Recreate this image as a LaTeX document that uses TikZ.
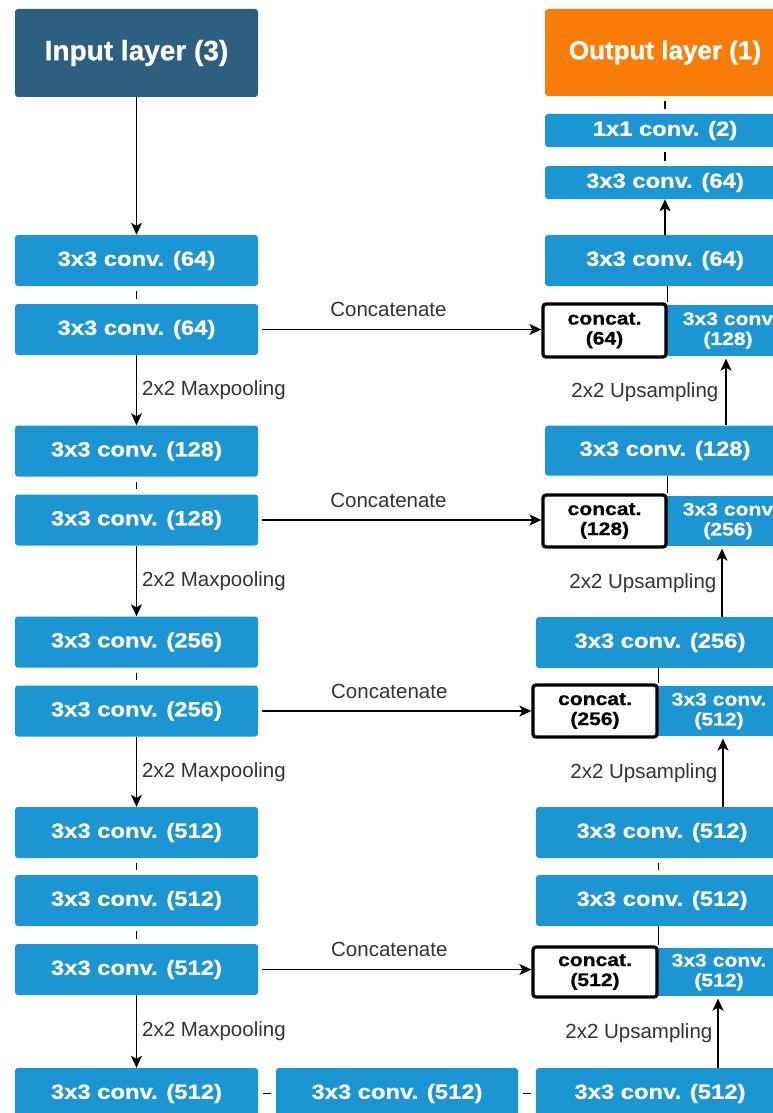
\documentclass[tikz,border=0pt]{standalone}
\usepackage{fontspec}
\setmainfont{Liberation Sans}
\newfontfamily\boxfont[FakeStretch=1.16,FakeBold=0.8]{Liberation Sans}
\newfontfamily\titlefont[FakeBold=0.8]{Liberation Sans}
\usetikzlibrary{arrows.meta}
\definecolor{ublue}{HTML}{1B96D3}
\definecolor{udark}{HTML}{2E5E80}
\definecolor{uorange}{HTML}{FA7D0A}
\definecolor{ulabel}{HTML}{333333}
\tikzset{
  conv/.style={fill=ublue, rounded corners=3pt, text=white, inner sep=0pt,
    font=\boxfont\bfseries\fontsize{20.5}{22}\selectfont},
  title/.style={rounded corners=3pt, text=white, inner sep=0pt,
    font=\titlefont\bfseries\fontsize{28}{30}\selectfont},
  lw/.style={minimum width=243pt, minimum height=51pt},
  rw/.style={minimum width=240pt},
  rlw/.style={minimum width=248pt, minimum height=51pt},
  concatbox/.style={draw=black, line width=3.3pt, fill=white, rounded corners=3pt,
    text=black, inner sep=0pt, align=center, minimum width=123pt,
    font=\boxfont\bfseries\fontsize{18.2}{20}\selectfont},
  halfbox/.style={fill=ublue, text=white, inner sep=0pt, align=center,
    minimum width=128pt, font=\boxfont\bfseries\fontsize{18.2}{20}\selectfont},
  arr/.style={draw=black, line width=1.3pt, -{Stealth[length=12pt,width=11pt,inset=3pt]}},
  plain/.style={draw=black, line width=1.3pt},
  tick/.style={draw=black, line width=1.3pt, shorten >=5pt, shorten <=5pt},
  lbl/.style={text=ulabel, inner sep=0pt, font=\fontsize{20.5}{22}\selectfont},
}
\begin{document}
\begin{tikzpicture}[x=1pt,y=-1pt]
\useasboundingbox (0,0) rectangle (773,1113);
\clip (0,0) rectangle (773,1113);
\fill[white] (0,0) rectangle (773,1113);

% left column
\node[title, fill=udark, minimum width=243pt, minimum height=88pt] (in) at (136.5,53) {Input layer (3)};
\node[conv, lw] (L1) at (136.5,260.5) {3x3 conv. (64)};
\node[conv, lw] (L2) at (136.5,329.5) {3x3 conv. (64)};
\node[conv, lw] (L3) at (136.5,451) {3x3 conv. (128)};
\node[conv, lw] (L4) at (136.5,520) {3x3 conv. (128)};
\node[conv, lw] (L5) at (136.5,642) {3x3 conv. (256)};
\node[conv, lw] (L6) at (136.5,711) {3x3 conv. (256)};
\node[conv, lw] (L7) at (136.5,832.5) {3x3 conv. (512)};
\node[conv, lw] (L8) at (136.5,900.5) {3x3 conv. (512)};
\node[conv, lw] (L9) at (136.5,969.5) {3x3 conv. (512)};
\node[conv, lw] (B1) at (136.5,1093.5) {3x3 conv. (512)};
\node[conv, minimum width=242pt, minimum height=51pt] (B2) at (397,1093.5) {3x3 conv. (512)};

% right column
\node[title, fill=uorange, rw, minimum height=87pt, font=\titlefont\bfseries\fontsize{26}{28}\selectfont] (out) at (665,52.5) {Output layer (1)};
\node[conv, rw, minimum height=33pt] (c11) at (665,130.5) {1x1 conv. (2)};
\node[conv, rw, minimum height=33pt] (T64) at (665,182.5) {3x3 conv. (64)};
\node[conv, rw, minimum height=51pt] (R1) at (665,260.5) {3x3 conv. (64)};
\node[halfbox, minimum height=51pt] (H1) at (728,330.5) {3x3 conv\\(128)};
\node[concatbox, minimum height=53pt] (C1) at (604.5,330.5) {concat.\\(64)};
\node[conv, rw, minimum height=50pt] (R2) at (665,450.5) {3x3 conv. (128)};
\node[halfbox, minimum height=50pt] (H2) at (728,521) {3x3 conv\\(256)};
\node[concatbox, minimum height=52pt] (C2) at (604.5,521) {concat.\\(128)};
\node[conv, rlw] (R3) at (660,642.5) {3x3 conv. (256)};
\node[halfbox, minimum height=50pt] (H3) at (719,711) {3x3 conv.\\(512)};
\node[concatbox, minimum height=52pt, minimum width=124pt] (C3) at (595,711) {concat.\\(256)};
\node[conv, minimum width=252pt, minimum height=51pt] (R4) at (662,832.5) {3x3 conv. (512)};
\node[conv, minimum width=252pt, minimum height=51pt] (R5) at (662,900.5) {3x3 conv. (512)};
\node[halfbox, minimum height=48pt] (H4) at (719,972) {3x3 conv.\\(512)};
\node[concatbox, minimum height=50pt, minimum width=124pt] (C4) at (595,972) {concat.\\(512)};
\node[conv, rlw] (RB) at (660,1093.5) {3x3 conv. (512)};

% left connectors
\draw[arr] (in) -- (L1);
\draw[tick] (L1) -- (L2);
\draw[arr] (L2) -- node[lbl, midway, right=5pt] {2x2 Maxpooling} (L3);
\draw[tick] (L3) -- (L4);
\draw[arr] (L4) -- node[lbl, midway, right=5pt] {2x2 Maxpooling} (L5);
\draw[tick] (L5) -- (L6);
\draw[arr] (L6) -- node[lbl, midway, right=5pt] {2x2 Maxpooling} (L7);
\draw[tick] (L7) -- (L8);
\draw[tick] (L8) -- (L9);
\draw[arr] (L9) -- node[lbl, midway, right=5pt] {2x2 Maxpooling} (B1);
\draw[tick] (B1) -- (B2);
\draw[tick] (B2) -- (RB);

% concatenations
\draw[arr, shorten <=4pt] (L2.east) -- node[lbl, pos=0.46, above=12pt] {Concatenate} (L2.east -| C1.west);
\draw[arr, shorten <=4pt] (L4.east) -- node[lbl, pos=0.46, above=12pt] {Concatenate} (L4.east -| C2.west);
\draw[arr, shorten <=4pt] (L6.east) -- node[lbl, pos=0.48, above=12pt] {Concatenate} (L6.east -| C3.west);
\draw[arr, shorten <=4pt] (L9.east) -- node[lbl, pos=0.48, above=12pt] {Concatenate} (L9.east -| C4.west);

% right connectors
\draw[tick] (out) -- (c11);
\draw[tick] (c11) -- (T64);
\draw[arr] (R1) -- (T64);
\draw[plain] (R1.south -| C1.east) -- (C1.north east);
\draw[arr] ([xshift=61pt]R2.north) -- node[lbl, midway, left=7pt] {2x2 Upsampling} ([xshift=61pt]R2.north |- C1.south);
\draw[plain] (R2.south -| C2.east) -- (C2.north east);
\draw[arr] ([xshift=62pt]R3.north) -- node[lbl, midway, left=5pt] {2x2 Upsampling} ([xshift=62pt]R3.north |- C2.south);
\draw[plain] (R3.south -| C3.east) -- (C3.north east);
\draw[arr] ([xshift=61pt]R4.north) -- node[lbl, midway, left=5pt] {2x2 Upsampling} ([xshift=61pt]R4.north |- C3.south);
\draw[tick] (R4.south -| C4.east) -- (R5.north -| C4.east);
\draw[plain] (R5.south -| C4.east) -- (C4.north east);
\draw[arr] ([xshift=58pt]RB.north) -- node[lbl, midway, left=5pt] {2x2 Upsampling} ([xshift=58pt]RB.north |- C4.south);
\end{tikzpicture}
\end{document}
